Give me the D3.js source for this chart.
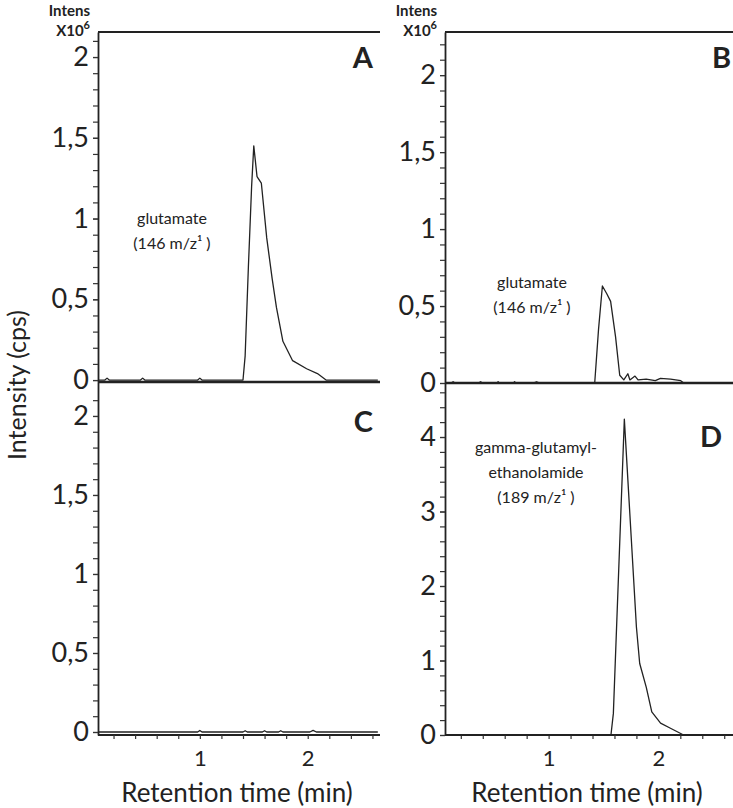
<!DOCTYPE html>
<html>
<head>
<meta charset="utf-8">
<script src="https://cdn.jsdelivr.net/npm/d3@7"></script>
<style>
  html, body { margin: 0; padding: 0; background: #fff; }
  svg { display: block; }
  text { font-family: Lato, "Open Sans", sans-serif; fill: #222; }
</style>
</head>
<body>
<svg id="chart" width="733" height="808"></svg>
<script>
// ---------------- data ----------------
// Panel A: glutamate (146 m/z)
const aTime = [0.06, 0.12, 0.14, 0.16, 0.45, 0.47, 0.49, 0.98, 1.0, 1.02, 1.40, 1.42, 1.45, 1.48, 1.50, 1.53, 1.57, 1.62, 1.67, 1.71, 1.77, 1.86, 1.99, 2.09, 2.17, 2.65];
const aIntensity = [0, 0, 0.012, 0, 0, 0.012, 0, 0, 0.012, 0, 0, 0.15, 0.7, 1.2, 1.45, 1.26, 1.22, 0.88, 0.63, 0.45, 0.24, 0.12, 0.07, 0.04, 0, 0];
// Panel B: glutamate (146 m/z)
const bTime = [0.06, 0.11, 0.13, 0.15, 0.36, 0.38, 0.40, 0.53, 0.54, 0.55, 0.68, 0.69, 0.70, 0.86, 0.89, 0.92, 1.42, 1.455, 1.49, 1.53, 1.565, 1.61, 1.648, 1.685, 1.722, 1.741, 1.787, 1.815, 1.889, 1.972, 2.019, 2.111, 2.204, 2.231, 2.67];
const bIntensity = [0, 0, 0.008, 0, 0, 0.008, 0, 0, 0.008, 0, 0, 0.008, 0, 0, 0.008, 0, 0, 0.35, 0.63, 0.58, 0.53, 0.30, 0.05, 0.02, 0.06, 0.02, 0.045, 0.02, 0.025, 0.015, 0.03, 0.025, 0.015, 0, 0];
// Panel C: no signal
const cTime = [0.06, 0.98, 1.0, 1.02, 1.40, 1.42, 1.44, 1.58, 1.60, 1.62, 1.73, 1.75, 1.77, 2.02, 2.05, 2.08, 2.65];
const cIntensity = [0, 0, 0.01, 0, 0, 0.008, 0, 0, 0.008, 0, 0, 0.008, 0, 0, 0.01, 0, 0];
// Panel D: gamma-glutamyl-ethanolamide (189 m/z)
const dTime = [0.06, 1.568, 1.59, 1.69, 1.80, 1.83, 1.89, 1.94, 2.02, 2.11, 2.23, 2.67];
const dIntensity = [0, 0, 0.29, 4.24, 1.45, 0.96, 0.64, 0.31, 0.16, 0.09, 0, 0];

// ticks
const yMajorABC = [0, 0.5, 1, 1.5, 2];
const yLabelsABC = ["0", "0,5", "1", "1,5", "2"];
const yMajorD = [0, 1, 2, 3, 4];
const yLabelsD = ["0", "1", "2", "3", "4"];
const xMajor = [1, 2];
const xLabels = ["1", "2"];
const annotations = {
  A: ["glutamate", "(146 m/z\u00B9 )"],
  B: ["glutamate", "(146 m/z\u00B9 )"],
  D: ["gamma-glutamyl-", "ethanolamide", "(189 m/z\u00B9 )"]
};

// ---------------- layout ----------------
const svg = d3.select("#chart");
svg.append("rect").attr("width", 733).attr("height", 808).attr("fill", "#fff");

const left = { x0: 98, x1: 380, xDomain: [0.056, 2.67] };
const right = { x0: 445, x1: 733, xDomain: [0.056, 2.68] };

const panels = [
  { id: "A", col: left, top: 32, bottom: 382, yDomain: [-0.012, 2.155], t: aTime, v: aIntensity,
    minor: d3.range(0, 2.15, 0.1), major: yMajorABC, labels: yLabelsABC, topLine: true, xAxis: false,
    letter: { x: 373, y: 68 } },
  { id: "B", col: right, top: 32, bottom: 383, yDomain: [0, 2.28], t: bTime, v: bIntensity,
    minor: d3.range(0, 2.25, 0.1), major: yMajorABC, labels: yLabelsABC, topLine: true, xAxis: false,
    letter: { x: 731, y: 68 } },
  { id: "C", col: left, top: 382, bottom: 735, yDomain: [-0.019, 2.215], t: cTime, v: cIntensity,
    minor: d3.range(0, 2.2, 0.1), major: yMajorABC, labels: yLabelsABC, topLine: false, xAxis: true,
    letter: { x: 373, y: 432 } },
  { id: "D", col: right, top: 383, bottom: 735, yDomain: [0, 4.725], t: dTime, v: dIntensity,
    minor: d3.range(0, 4.7, 0.2), major: yMajorD, labels: yLabelsD, topLine: false, xAxis: true,
    letter: { x: 722, y: 447 } }
];

panels.forEach(p => {
  const x = d3.scaleLinear().domain(p.col.xDomain).range([p.col.x0, p.col.x1]);
  const y = d3.scaleLinear().domain(p.yDomain).range([p.bottom, p.top]);
  const g = svg.append("g");

  // minor y ticks
  g.append("g")
    .attr("transform", `translate(${p.col.x0},0)`)
    .call(d3.axisLeft(y).tickValues(p.minor.map(d => +d.toFixed(2))).tickSize(5).tickSizeOuter(0).tickFormat(""))
    .call(s => s.select(".domain").attr("stroke", "#222").attr("stroke-width", 1.8))
    .call(s => s.selectAll(".tick line").attr("stroke", "#333").attr("stroke-width", 1.2));

  // major y labels
  g.append("g")
    .attr("transform", `translate(${p.col.x0},0)`)
    .call(d3.axisLeft(y).tickValues(p.major).tickSize(5).tickPadding(4)
      .tickFormat((d, i) => p.labels[i]))
    .call(s => s.select(".domain").remove())
    .call(s => s.selectAll(".tick line").attr("stroke", "#333").attr("stroke-width", 1.2))
    .call(s => s.selectAll(".tick text").attr("font-size", 27).attr("fill", "#222")
      .attr("font-family", "Lato, 'Open Sans', sans-serif"));

  // top border
  if (p.topLine) {
    g.append("line").attr("x1", p.col.x0).attr("x2", p.col.x1)
      .attr("y1", p.top).attr("y2", p.top).attr("stroke", "#222").attr("stroke-width", 1.8);
  }
  // bottom line
  g.append("line").attr("x1", p.col.x0).attr("x2", p.col.x1)
    .attr("y1", p.bottom).attr("y2", p.bottom).attr("stroke", "#222").attr("stroke-width", p.xAxis ? 1.8 : 2.4);

  // x axis
  if (p.xAxis) {
    g.append("g")
      .attr("transform", `translate(0,${p.bottom})`)
      .call(d3.axisBottom(x).tickValues(d3.range(0.2, 2.7, 0.2).map(d => +d.toFixed(1))).tickSize(4).tickSizeOuter(0).tickFormat(""))
      .call(s => s.select(".domain").remove())
      .call(s => s.selectAll(".tick line").attr("stroke", "#333").attr("stroke-width", 1.2));
    g.append("g")
      .attr("transform", `translate(0,${p.bottom})`)
      .call(d3.axisBottom(x).tickValues(xMajor).tickSize(0).tickPadding(15)
        .tickFormat((d, i) => xLabels[i]))
      .call(s => s.select(".domain").remove())
      .call(s => s.selectAll(".tick text").attr("font-size", 22).attr("fill", "#222")
        .attr("font-family", "Lato, 'Open Sans', sans-serif"));
    g.append("text")
      .attr("x", (p.col.x0 + p.col.x1) / 2 - 2)
      .attr("y", 802)
      .attr("text-anchor", "middle")
      .attr("font-size", 26)
      .text("Retention time (min)");
  }

  // trace
  const line = d3.line().x(d => x(d[0])).y(d => y(d[1]));
  g.append("path")
    .datum(p.t.map((t, i) => [t, p.v[i]]))
    .attr("d", line)
    .attr("fill", "none")
    .attr("stroke", "#222")
    .attr("stroke-width", 1.3)
    .attr("stroke-linejoin", "round");

  // panel letter
  g.append("text")
    .attr("x", p.letter.x)
    .attr("y", p.letter.y)
    .attr("text-anchor", "end")
    .attr("font-size", 29)
    .attr("font-weight", 700)
    .text(p.id);
});

// "Intens X10^6" headers
[{ xr: 90 }, { xr: 437 }].forEach(h => {
  svg.append("text").attr("x", h.xr).attr("y", 16).attr("text-anchor", "end")
    .attr("font-size", 15).attr("font-weight", 700).text("Intens");
  const t = svg.append("text").attr("x", h.xr).attr("y", 36).attr("text-anchor", "end")
    .attr("font-size", 15).attr("font-weight", 700);
  t.append("tspan").text("X10");
  t.append("tspan").attr("dy", -7).attr("font-size", 11).text("6");
});

// y title
svg.append("text")
  .attr("transform", "translate(26,385) rotate(-90)")
  .attr("text-anchor", "middle")
  .attr("font-size", 25)
  .text("Intensity (cps)");

// annotations
const annPos = {
  A: { x: 172, y: 224 },
  B: { x: 532, y: 288 },
  D: { x: 536, y: 453 }
};
Object.keys(annotations).forEach(k => {
  const pos = annPos[k];
  annotations[k].forEach((s, i) => {
    svg.append("text")
      .attr("x", pos.x).attr("y", pos.y + i * 25)
      .attr("text-anchor", "middle")
      .attr("font-size", 16)
      .text(s);
  });
});
</script>
</body>
</html>
